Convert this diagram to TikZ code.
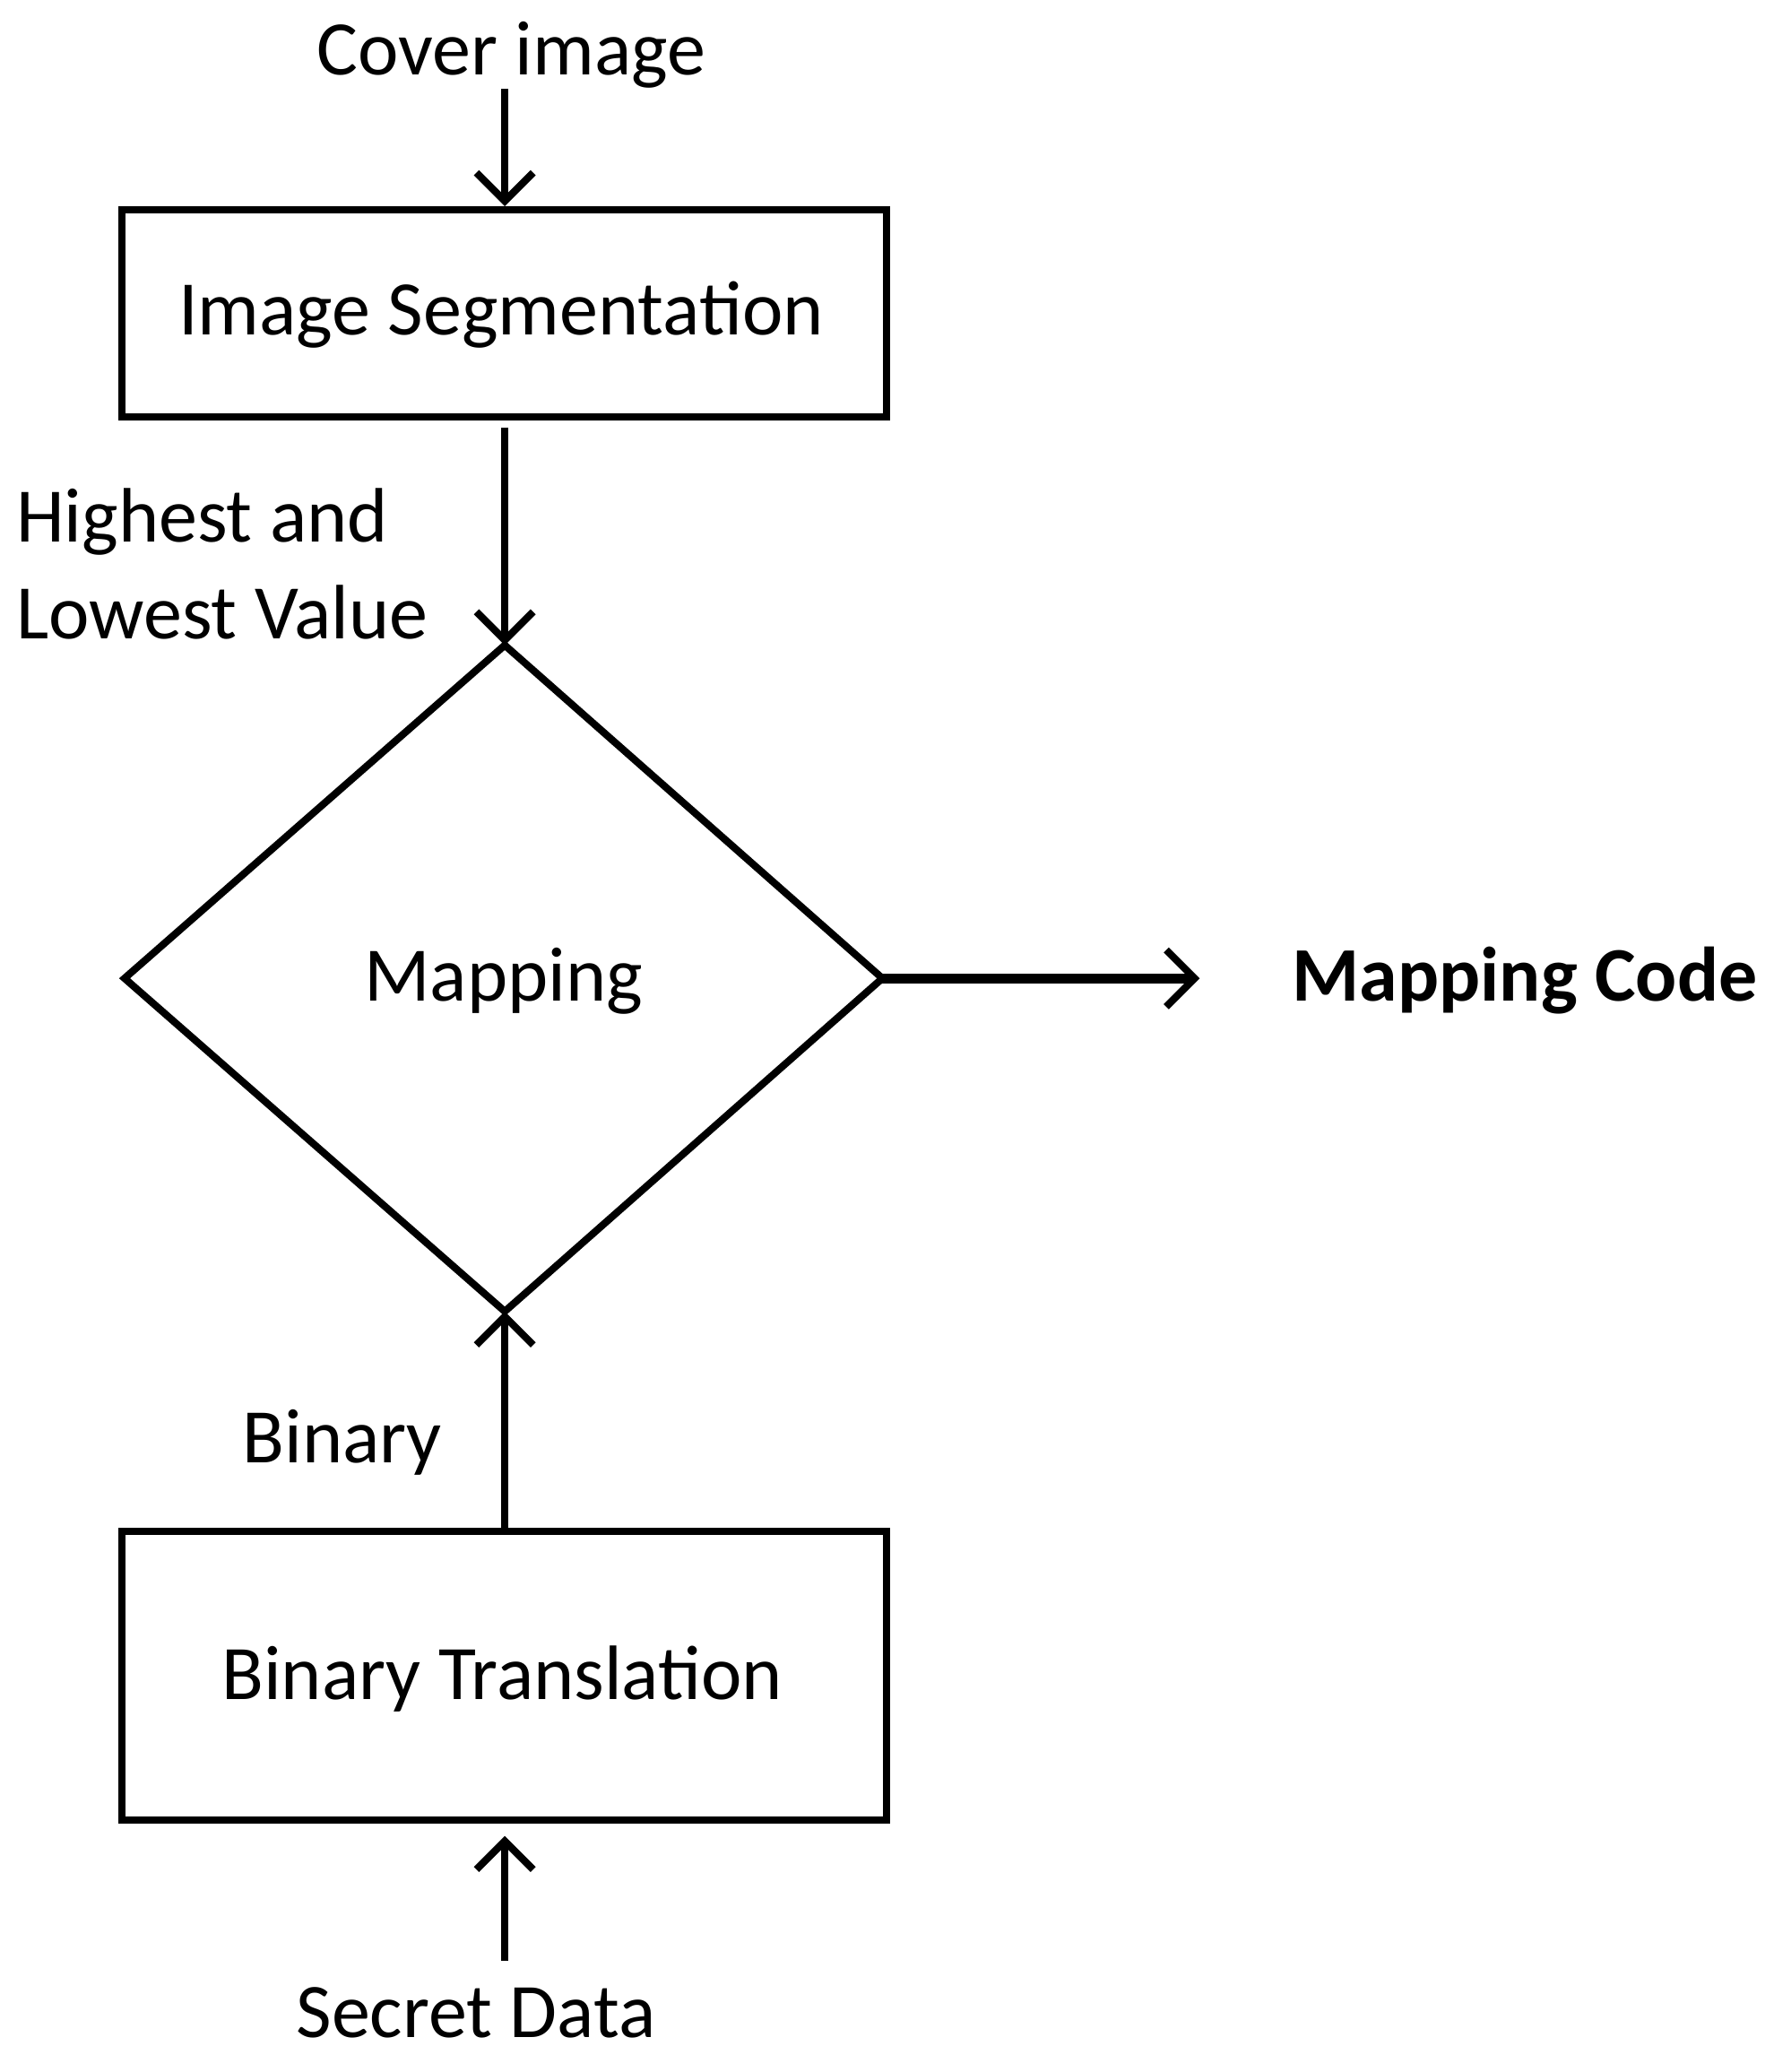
\documentclass[tikz,border=0pt]{standalone}
\usepackage{fontspec}
\setmainfont{Carlito}
\usetikzlibrary{arrows.meta,shapes.geometric}
\begin{document}
\begin{tikzpicture}[x=0.014627cm,y=-0.014627cm,
  box/.style={draw,line width=2.3pt,minimum width=583*0.014627cm,inner sep=0},
  lbl/.style={font=\fontsize{24.5}{30.5}\selectfont,inner sep=0},
  arr/.style={line width=2.3pt,-{Straight Barb[length=9pt,width=18pt,line width=2.3pt]}}]
\useasboundingbox (0,0) rectangle (1366,1580);
\node[lbl] (cover) at (390,42) {Cover image};
\node[box,minimum height=158*0.014627cm] (seg) at (384.5,239) {};
\node[lbl] at (382,240) {Image Segmentation};
\node[lbl,align=left,anchor=west] (hl) at (12,430) {Highest and\\Lowest Value};
\coordinate (dt) at (385,492);
\coordinate (db) at (385,1000);
\coordinate (dl) at (95,746);
\coordinate (dr) at (673,746);
\draw[line width=2.3pt,line join=miter] (dt) -- (dr) -- (db) -- (dl) -- cycle;
\node[lbl] (map) at (384,748) {Mapping};
\node[lbl,anchor=west,font=\fontsize{24.5}{30.5}\selectfont\bfseries] (code) at (985,748) {Mapping Code};
\node[lbl] (bin) at (261,1100) {Binary};
\node[box,minimum height=220*0.014627cm] (bt) at (384.5,1278) {};
\node[lbl] at (383,1280) {Binary Translation};
\node[lbl] (sec) at (363,1535) {Secret Data};
\coordinate (a1) at (385,68);
\coordinate (a2) at (385,326);
\coordinate (a3) at (385,1165);
\coordinate (a4) at (385,1495);
\coordinate (a5) at (385,1400);
\coordinate (e1) at (915,746);
\draw[arr] (a1) -- (seg.north -| a1);
\draw[arr] (a2) -- (dt);
\draw[arr,line width=3.2pt] (dr) -- (e1);
\draw[arr] (a3) -- (db);
\draw[arr] (a4) -- (a5);
\end{tikzpicture}
\end{document}
